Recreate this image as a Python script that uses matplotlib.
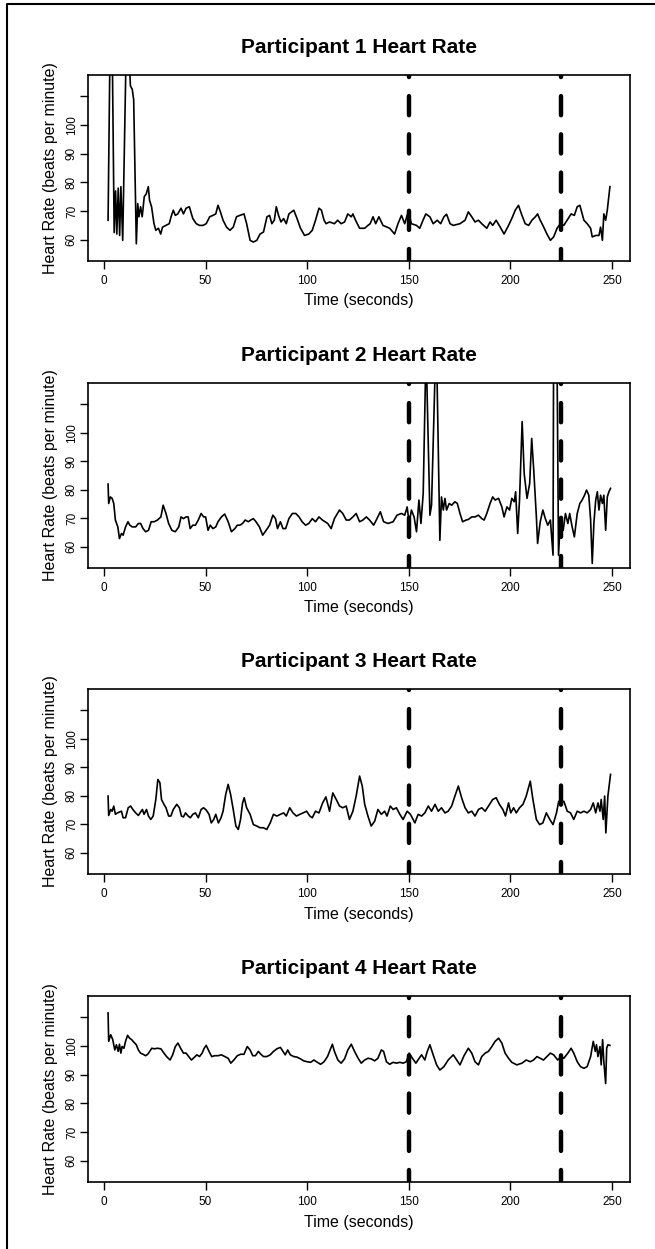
import matplotlib
matplotlib.use("Agg")
import matplotlib.pyplot as plt
from matplotlib.lines import Line2D

plt.rcParams["font.family"] = ["Liberation Sans", "DejaVu Sans"]

# heart rate traces (seconds, beats per minute)
# values above the plot top (spikes) are clipped by the axes
p1_time = [2, 3, 4, 5, 5.7, 6.3, 7, 7.7, 8.3, 9.2, 11, 12, 13, 13.9, 14.6, 15.9,
           16.6, 17.2, 18, 18.8, 19.8, 20.8, 21.8, 22.4, 23.4, 24.6, 25.5, 26.8,
           27.9, 28.8, 30.5, 32.1, 33, 34.1, 35.1, 36.3, 37.9, 39.1, 40.4, 42,
           43.7, 45.4, 47, 48.7, 50.3, 52, 53.6, 55, 56.1, 57.3, 58.6, 60.3, 62,
           63.6, 65.2, 66.9, 68.9, 70.2, 71.9, 73.5, 75.2, 76.8, 78.5, 80.2, 81.5,
           82.6, 83.8, 84.8, 85.9, 87.1, 88.4, 89.7, 91, 93.4, 95, 96.7, 98.7,
           100.8, 102.5, 104.1, 105.8, 107, 108.3, 109.3, 111, 113.4, 115, 116.7,
           118.4, 120, 121.7, 122.5, 123.8, 125.8, 128.3, 129.9, 131, 132.4, 133.7,
           135.3, 137.3, 140.6, 143, 144.7, 146.4, 148, 149.7, 151.3, 153.8, 155.4,
           157, 158.4, 160.4, 162, 164, 165.7, 167.3, 168.6, 170.3, 171.9, 175.2,
           177.7, 179.3, 181, 182.6, 184.3, 185.9, 188.4, 190, 191.3, 193, 195,
           196.9, 199.1, 200.7, 202.4, 204, 205.7, 207.3, 209, 210.6, 212.3, 213.4,
           214.7, 216, 218, 219.7, 221.3, 223, 224.6, 226.3, 227.9, 229.9, 231.5,
           232.9, 234.2, 236.2, 237.8, 239.5, 240.3, 242, 243.6, 244.4, 245.3, 246,
           246.9, 247.7, 249]
p1_hr = [66.8, 130, 130, 62.5, 77, 62, 78, 61.5, 78.5, 59.8, 130, 130, 113.6, 112.4,
         108.8, 58.6, 72.6, 68, 71.5, 68, 75, 76, 78.5, 73.8, 71.5, 65.6, 63.3, 64,
         62, 64.4, 65, 65.6, 68, 70.3, 68.5, 69, 71, 69, 71, 71.5, 67.4, 65.6, 65,
         65, 65.6, 68, 68.5, 69, 72, 69.7, 66.8, 64.4, 63.3, 64.4, 68, 68.5, 69,
         65.6, 59.8, 59.2, 59.8, 62, 62.7, 68, 68.5, 65.6, 66.8, 71.5, 68.5, 66.2,
         67.4, 65.6, 69, 70.3, 67.4, 64, 61.5, 62, 63.3, 66.8, 71, 70.3, 66.8, 65.6,
         66.2, 65.6, 66.8, 65.6, 66.2, 69, 68, 69, 66.8, 64, 64, 65, 65.6, 68, 65.6,
         68, 65, 64, 62, 65.6, 68.5, 65.6, 69.7, 65.6, 65, 64, 66.8, 69, 68, 65.6,
         66.8, 65.6, 68, 68.9, 65.6, 65, 65.6, 66.8, 69.7, 68, 66.2, 66.8, 65.6, 64,
         66.2, 65, 66.8, 64.4, 62, 65, 67.4, 70.3, 72, 68.5, 65.6, 65, 66.8, 68, 69,
         66.8, 65, 62, 59.8, 61, 64, 65.6, 65, 66.8, 69, 68.5, 71.5, 72, 66.8, 65.6,
         64, 61, 61.5, 61.5, 64.4, 59.8, 69, 66.8, 70.3, 78.5]

p2_time = [2, 2.3, 3.1, 4, 4.8, 5.6, 6.8, 7.6, 8.6, 9.4, 10.6, 11.8, 12.7, 13.9,
           15.6, 16.9, 18, 19.2, 20.5, 21.9, 23.2, 24.7, 26.3, 28, 29.1, 30.5,
           31.8, 33.4, 35.1, 36.8, 37.9, 39.1, 40.4, 41.4, 42.4, 43.7, 45, 46.4,
           47.8, 49, 50, 51.2, 52.3, 53.6, 55, 56.1, 57.8, 59.4, 61.1, 62.7, 64.4,
           65.6, 66.9, 68.2, 69.5, 71, 72.2, 73.5, 74.8, 76.5, 78.1, 79.8, 81.5,
           83.1, 84.4, 85.4, 86.8, 88.1, 89.4, 91, 92.7, 94.4, 96, 97.5, 99.2,
           100.8, 102.5, 104.1, 105.8, 107.5, 110.1, 111.8, 113.4, 115.9, 117.5,
           119.2, 120.8, 122.5, 124.1, 125.8, 127.4, 129.1, 130.7, 132.7, 134, 136,
           137.6, 139.8, 142.3, 144.2, 146.4, 148, 149.2, 150.2, 151.3, 152.6,
           153.8, 155, 156, 157.1, 158.5, 160.4, 161.2, 163.5, 165.3, 166.1, 167,
           167.8, 168.6, 169.9, 171.1, 172.7, 173.9, 175.2, 176.5, 178.2, 179.3,
           181, 182.6, 184.3, 185.9, 187.1, 188.4, 190, 191.3, 192.5, 194.2, 195.8,
           196.9, 198.3, 199.6, 200.7, 201.9, 202.6, 203.6, 204.5, 205.8, 206.8,
           208.2, 209.5, 210.5, 211.5, 212.8, 213.4, 214.7, 216, 217.2, 218.4,
           219.7, 221, 221.4, 222.6, 223.7, 224.6, 226, 227.1, 228.3, 229.2, 230.4,
           231.5, 232.9, 234.2, 235.3, 236.5, 237.5, 238.6, 239.5, 240.3, 241.1,
           242, 242.8, 243.6, 244.4, 245.3, 246, 246.9, 247.7, 248.5, 249.3]
p2_hr = [82, 75.2, 77.5, 77, 75.2, 69.4, 67, 62.9, 64.7, 64.1, 67, 68.8, 67.6, 67, 67,
         68.2, 68.2, 66.4, 65.3, 65.8, 68.8, 68.8, 69.4, 70.5, 74.6, 71.7, 68.2, 65.8,
         65.3, 67, 70.5, 69.9, 70.5, 70.5, 66.4, 67.6, 67.6, 69.4, 71.7, 70.5, 70.5,
         65.8, 67.6, 66.4, 67, 68.8, 70.5, 71.5, 68.8, 65.3, 66.4, 67.6, 67.6, 68.2,
         69.4, 68.8, 69.4, 69.9, 68.8, 67, 64.1, 65.8, 67.6, 71.1, 69.9, 66.4, 68.8,
         66.4, 66.4, 69.9, 71.7, 71.7, 70.5, 68.8, 67.6, 68.2, 69.9, 68.8, 70.5, 69.4,
         68.2, 66.4, 69.9, 72.9, 71.7, 69.4, 69.4, 70.5, 71.7, 68.8, 69.4, 70.5, 69.4,
         67.6, 69.4, 72.3, 68.8, 68.2, 68.8, 71.1, 71.7, 71.1, 74, 68.2, 72.9, 70.5,
         65.3, 76.4, 68.2, 78.7, 130, 71.1, 74.6, 136, 62.3, 77.5, 72.9, 77, 72.9,
         75.2, 74.6, 75.8, 75.2, 71.7, 68.8, 69.4, 69.6, 70.5, 70.5, 71.1, 69.9, 69.4,
         71.7, 75.2, 77.5, 76.4, 77, 74, 70.5, 74, 72.9, 77, 75.8, 79.3, 64.7, 76.4,
         103.9, 85.7, 77, 82.2, 98, 86.9, 70.5, 61.2, 68.8, 72.9, 69.9, 67.6, 69.4,
         57.1, 160, 160, 57.1, 69.4, 65.8, 71.7, 68.2, 71.7, 67, 63.5, 71.7, 75.2,
         76.4, 78.1, 79.9, 78.1, 69.4, 54.2, 68.2, 76.4, 79.3, 72.9, 78.1, 75.2, 78.1,
         65.8, 77.5, 79.3, 80.5]

p3_time = [2, 2.3, 3.3, 4, 4.8, 5.6, 6.6, 7.6, 8.6, 9.4, 10.6, 11.9, 13.1, 14.2,
           15.6, 16.9, 18, 18.9, 19.7, 20.9, 21.9, 23, 24.2, 25.5, 26.5, 27.5, 28.3,
           29.5, 30.5, 31.8, 32.9, 34.1, 35.8, 37.1, 38.1, 39.1, 40.1, 41.4, 42.5,
           43.7, 45, 46.4, 47.8, 49, 50.3, 51.7, 52.8, 54, 55, 56.3, 57.6, 58.6,
           59.9, 61.1, 62.3, 63.6, 64.9, 66.1, 67.2, 68.2, 69, 70.2, 71.9, 73.5,
           75.2, 76.8, 78.5, 80.1, 81.8, 83.4, 85.1, 86.8, 88.4, 89.7, 91.4, 93,
           94.7, 96.4, 98, 99.7, 101.3, 102.5, 104.1, 105.8, 107.6, 109.2, 111,
           112.6, 114.3, 115.9, 117.5, 119.2, 120.8, 122.5, 124.1, 125.8, 127.1,
           128.3, 129.9, 131.5, 133.2, 134.8, 136.5, 138.1, 139.3, 140.9, 142.3,
           143.9, 145.6, 147.2, 149.2, 150.8, 153, 154.6, 156.3, 157.9, 159.6,
           161.2, 162.9, 164.5, 166.1, 167.8, 169.4, 171.1, 172.7, 174.4, 176,
           177.7, 179.3, 181, 182.6, 184.3, 185.9, 187.6, 189.2, 191.3, 193, 194.6,
           196.3, 197.6, 199.1, 200.2, 201.6, 202.9, 204.5, 206.2, 207.8, 209.8,
           211.1, 212.8, 214.4, 216, 217.7, 219.4, 221, 222.7, 223.8, 225, 226.3,
           228, 229.6, 231.2, 232.9, 234.6, 236.2, 237.8, 239.5, 240.8, 242, 243.1,
           244.1, 244.7, 245.7, 246.4, 247, 248, 249.3]
p3_hr = [79.9, 73.1, 75.2, 74.6, 76.4, 73.5, 74, 74.3, 74.6, 72.3, 72.3, 75.8, 76.4,
         75.2, 74, 73.1, 74.3, 75.2, 73.5, 75.2, 72.9, 71.7, 72.9, 78.7, 85.7, 84.6,
         78.7, 77, 75.8, 72.9, 72.9, 75.2, 77, 75.8, 72.9, 72.6, 74, 72.9, 72.3, 73.5,
         74, 72.3, 75.2, 75.8, 75, 73.5, 70.5, 71.7, 73.5, 70.5, 72.3, 74.6, 80.5, 84,
         80.5, 75.2, 69.4, 68.2, 71.7, 77.5, 79.3, 75.8, 73.5, 69.9, 69.4, 68.8, 68.8,
         68.2, 70.5, 73.5, 72.9, 73.5, 74, 72.9, 75.8, 74, 72.9, 73.5, 74, 74.6, 72.9,
         72.3, 74.6, 74, 77.5, 79.6, 74.6, 81, 78.7, 76.4, 75.8, 76.4, 71.7, 74.6,
         79.9, 86.9, 83.4, 77, 72.9, 69.4, 71.1, 75.2, 73.5, 74.6, 72.9, 76.4, 75.2,
         75.8, 73.5, 71.7, 74.6, 73.5, 70.5, 73.5, 72.9, 74, 76.4, 74.6, 77, 74.6,
         75.8, 74, 74.6, 76.4, 79.9, 83.4, 79.3, 75.8, 74, 74.6, 72.9, 75.2, 75.8,
         74.6, 76.4, 78.7, 79.3, 77, 75.2, 72.9, 77.5, 74, 75.8, 74, 75.8, 77, 79.9,
         85.1, 78.7, 71.7, 69.9, 70.5, 74, 71.7, 69.9, 74, 78.1, 77.5, 78.1, 74.6, 74,
         71.7, 74.6, 74, 74.6, 74, 75.2, 77.5, 74, 77.5, 74.6, 78.7, 71.7, 79.9, 67,
         79.9, 87.5]

p4_time = [2, 2.3, 3.3, 4.3, 5.3, 6.1, 7, 7.6, 8.3, 8.9, 9.8, 10.6, 11.6, 12.6,
           13.6, 14.7, 15.9, 16.9, 18, 19.2, 20.5, 21.5, 22.5, 23.5, 24.8, 26.3, 28,
           29.5, 30.8, 32.5, 33.8, 35.1, 36.4, 37.7, 39.1, 40.4, 41.7, 43, 44.4,
           45.7, 47, 48.3, 49.3, 50.3, 51.7, 53, 54.5, 56.1, 57.8, 59.4, 61.1, 62.4,
           63.9, 65.6, 67.2, 68.9, 70.5, 71.9, 73.2, 74.5, 76, 77.2, 78.5, 80.1,
           81.8, 83.4, 85.1, 86.8, 88.1, 89.2, 90.4, 91.7, 93.4, 95, 96.7, 98.3, 100,
           101.7, 103.3, 105, 106.6, 108.3, 110, 111.3, 112.4, 113.4, 115.1, 116.7,
           118.4, 120, 121.7, 123.3, 125, 126.6, 128.3, 129.9, 131.5, 133.2, 134.8,
           136.5, 137.6, 139, 140.6, 142.3, 143.9, 145.6, 147.2, 148.8, 150.2,
           151.8, 153.5, 155.1, 156.3, 157.9, 159.1, 160.4, 162, 163.7, 165.3,
           167.3, 169.4, 171.9, 173.6, 175.2, 177.2, 179.3, 181, 182.6, 184.3,
           185.9, 187.6, 189.2, 190.9, 192.5, 194.2, 195.8, 197.4, 199.1, 200.7,
           203.2, 205.7, 207.8, 209.8, 211.4, 213.1, 214.7, 216.3, 218, 219.7,
           221.3, 223.3, 224.9, 226.3, 228.3, 229.9, 231.2, 232.9, 234.5, 236.2,
           237.8, 239.5, 240.8, 241.8, 242.4, 243.1, 244.1, 244.7, 245.4, 246,
           246.9, 247.4, 248, 249]
p4_hr = [111.5, 101.6, 103.9, 102.2, 98.6, 100.4, 98.1, 100.6, 97.5, 99.8, 99.2, 101.6,
         103.7, 102.7, 102.2, 101.3, 100.4, 98.6, 97.5, 97.1, 96.6, 97.1, 98.1, 99.2,
         99, 99.2, 99, 97.5, 96.3, 95.1, 96.9, 99.8, 101, 99.2, 97.5, 97.5, 96.3, 95.1,
         96, 96.9, 96.3, 97.5, 99.2, 100.2, 98.1, 96.3, 96.6, 96.6, 96.9, 96.3, 95.7,
         94, 95.1, 96.6, 97.1, 97.1, 99.8, 98.6, 96.6, 96.6, 98.1, 97.1, 96.3, 96.3,
         96.9, 98.1, 99, 99.5, 98.1, 96.9, 98.6, 96.9, 96.3, 96.1, 95.5, 94.8, 94.5,
         94.3, 95.1, 94.3, 93.6, 94.5, 96.3, 98.6, 100.6, 98.1, 95.1, 94, 95.5, 98.6,
         100.6, 98.1, 95.8, 94, 95.1, 95.7, 95.5, 94.8, 95.7, 98.6, 98.1, 94.5, 93.6,
         94.3, 94, 94.3, 94, 94.5, 97.5, 95.7, 94, 95.7, 96.9, 95.1, 98.1, 100.4, 96.9,
         93.4, 91.6, 92.8, 95.1, 96.9, 95.1, 93.4, 96.6, 99.2, 97.5, 94.5, 93.4, 96.3,
         97.5, 98.1, 99.8, 101.6, 102.7, 101, 97.5, 95.7, 94.3, 93.4, 94, 95.1, 94.5,
         95.1, 96.3, 95.7, 95.1, 96.3, 97.5, 96.9, 95.1, 96.3, 95.7, 97.5, 99.2, 97.5,
         94.5, 92.8, 92.2, 92.8, 96.3, 101.6, 98.1, 100.4, 96.3, 99.8, 93.4, 102.2,
         94.5, 86.9, 99.2, 100.4, 100.2]

titles = ["Participant 1 Heart Rate", "Participant 2 Heart Rate",
          "Participant 3 Heart Rate", "Participant 4 Heart Rate"]
times = [p1_time, p2_time, p3_time, p4_time]
rates = [p1_hr, p2_hr, p3_hr, p4_hr]

phase_marks = [150, 225]
x_ticks = [0, 50, 100, 150, 200, 250]
y_ticks = [60, 70, 80, 90, 100, 110]
y_tick_labels = ["60", "70", "80", "90", "100", ""]

W, H = 655, 1249
fig = plt.figure(figsize=(W / 100, H / 100), dpi=100)

# panel boxes in pixels: (top, bottom)
boxes = [(75, 261), (383, 568), (689, 874), (996, 1182)]
left, right = 88, 630

for i, (top, bot) in enumerate(boxes):
    ax = fig.add_axes([left / W, 1 - bot / H, (right - left) / W, (bot - top) / H])
    ax.plot(times[i], rates[i], color="black", lw=1.2)
    for m in phase_marks:
        ax.axvline(m, color="black", lw=3.2, linestyle=(1.6, (4.3, 4.3)),
                   dash_capstyle="round")
    ax.set_xlim(-7.88, 258.88)
    ax.set_ylim(52.6, 117.4)
    ax.set_xticks(x_ticks)
    ax.set_xticklabels([str(t) for t in x_ticks])
    ax.set_yticks(y_ticks)
    ax.set_yticklabels(y_tick_labels, rotation=90, va="center")
    ax.tick_params(axis="x", length=5.8, width=1, labelsize=8.5, pad=4.5)
    ax.tick_params(axis="y", length=5.8, width=1, labelsize=8.5, pad=1.5)
    for s in ax.spines.values():
        s.set_linewidth(1.2)
    ax.set_title(titles[i], fontsize=15, fontweight="bold", pad=16)
    ax.set_xlabel("Time (seconds)", fontsize=11.5)
    ax.xaxis.set_label_coords(0.5, -40 / (bot - top))
    ax.xaxis.label.set_va("center")
    ax.set_ylabel("Heart Rate (beats per minute)", fontsize=11.5)
    ax.yaxis.set_label_coords(-37 / (right - left), 0.5)
    ax.yaxis.label.set_va("center")
    ax.yaxis.label.set_ha("center")

# outer frame: left and top edges of the surrounding box
fig.add_artist(Line2D([7 / W, 7 / W, 1.01], [-0.01, 1 - 3.5 / H, 1 - 3.5 / H],
                      transform=fig.transFigure, color="black", lw=1.5))

fig.savefig("out.png", dpi=100)
